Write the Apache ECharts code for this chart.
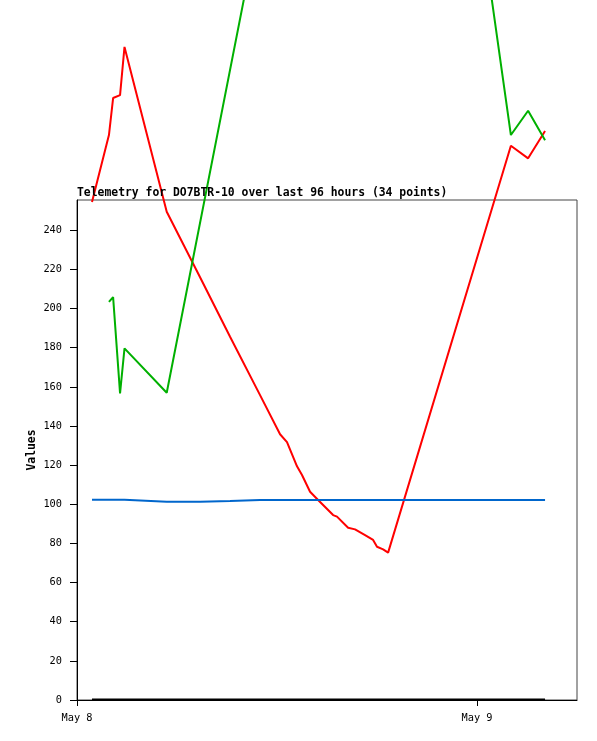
<!DOCTYPE html>
<html>
<head>
<meta charset="utf-8">
<script src="https://cdn.jsdelivr.net/npm/echarts@6/dist/echarts.min.js"></script>
<style>
html,body{margin:0;padding:0;background:#fff;}
#chart{width:597px;height:741px;}
</style>
</head>
<body>
<div id="chart"></div>
<script>
// Shared timestamps (UTC)
var times = [
  "2024-05-08T00:54", "2024-05-08T01:55", "2024-05-08T02:10", "2024-05-08T02:35",
  "2024-05-08T02:51", "2024-05-08T05:23", "2024-05-08T07:23", "2024-05-08T09:11",
  "2024-05-08T10:59", "2024-05-08T12:11", "2024-05-08T12:36", "2024-05-08T13:12",
  "2024-05-08T13:30", "2024-05-08T13:59", "2024-05-08T14:28", "2024-05-08T15:22",
  "2024-05-08T15:36", "2024-05-08T16:16", "2024-05-08T16:41", "2024-05-08T17:17",
  "2024-05-08T17:46", "2024-05-08T18:00", "2024-05-08T18:22", "2024-05-08T18:40",
  "2024-05-09T02:02", "2024-05-09T03:04", "2024-05-09T04:05"
];
var redValues = [
  254.5, 288.7, 307.6, 309.1, 333.7, 249.5, 216.0, 185.6,
  155.8, 135.8, 131.8, 119.4, 115.0, 106.4, 102.2, 94.5,
  93.7, 88.0, 87.2, 84.3, 81.8, 78.3, 77.0, 75.3,
  283.2, 276.8, 290.8
];
var greenValues = [
  null, 203.4, 205.9, 156.7, 179.7, 157.0, null, null,
  null, null, null, null, null, null, null, null,
  null, null, null, null, null, null, null, 733.8,
  288.7, 301.1, 286.0
];
var blueValues = [
  102.3, 102.3, 102.3, 102.3, 102.3, 101.3, 101.3, 101.7,
  102.2, 102.2, 102.2, 102.2, 102.2, 102.2, 102.2, 102.2,
  102.2, 102.2, 102.2, 102.2, 102.2, 102.2, 102.2, 102.2,
  102.2, 102.2, 102.2
];
var blackValues = [
  0.3, 0.3, 0.3, 0.3, 0.3, 0.3, 0.3, 0.3,
  0.3, 0.3, 0.3, 0.3, 0.3, 0.3, 0.3, 0.3,
  0.3, 0.3, 0.3, 0.3, 0.3, 0.3, 0.3, 0.3,
  0.3, 0.3, 0.3
];
var yTicks = [0, 20, 40, 60, 80, 100, 120, 140, 160, 180, 200, 220, 240];
var xTickDates = ["2024-05-08T00:00", "2024-05-09T00:00"];
var xTickLabels = ["May 8", "May 9"];
var titleText = "Telemetry for DO7BTR-10 over last 96 hours (34 points)";
var yName = "Values";

function toMs(s) { return Date.parse(s + ":00Z"); }
function pairs(vals) {
  var out = [];
  for (var i = 0; i < times.length; i++) {
    if (vals[i] !== null) out.push([toMs(times[i]), vals[i]]);
  }
  return out;
}
var xTicksMs = xTickDates.map(toMs);
var xMin = toMs("2024-05-08T00:00");
var xMax = toMs("2024-05-09T06:00");

var chart = echarts.init(document.getElementById('chart'), null, {renderer: 'canvas'});
var mono = "'DejaVu Sans Mono', monospace";
function lineSeries(vals, color) {
  return {
    type: 'line',
    data: pairs(vals),
    showSymbol: false,
    symbol: 'none',
    clip: false,
    connectNulls: true,
    lineStyle: {color: color, width: 2},
    itemStyle: {color: color},
    emphasis: {disabled: true}
  };
}
chart.setOption({
  animation: false,
  backgroundColor: '#fff',
  title: {
    text: titleText,
    left: 77, top: 188,
    padding: 0,
    textStyle: {fontFamily: mono, fontSize: 11.4, fontWeight: 'bold', color: '#000'}
  },
  grid: {
    left: 77, top: 200, width: 500, height: 500,
    show: true, borderColor: '#444', borderWidth: 1, backgroundColor: 'transparent'
  },
  xAxis: {
    type: 'value',
    min: xMin, max: xMax,
    splitLine: {show: false},
    axisLine: {show: true, lineStyle: {color: '#000', width: 1}},
    axisTick: {show: true, length: 6, lineStyle: {color: '#000'}, customValues: xTicksMs},
    axisLabel: {
      show: true, margin: 13, color: '#000', fontFamily: mono, fontSize: 10.3,
      customValues: xTicksMs,
      formatter: function (v) {
        var i = xTicksMs.indexOf(v);
        return i >= 0 ? xTickLabels[i] : '';
      }
    }
  },
  yAxis: {
    type: 'value',
    min: 0, max: 255.5,
    name: yName,
    nameLocation: 'middle',
    nameGap: 39,
    nameMoveOverlap: false,
    nameTextStyle: {fontFamily: mono, fontSize: 11.4, fontWeight: 'bold', color: '#000'},
    splitLine: {show: false},
    axisLine: {show: true, lineStyle: {color: '#000', width: 1}},
    axisTick: {show: true, length: 7, lineStyle: {color: '#000'}, customValues: yTicks},
    axisLabel: {show: true, margin: 15, color: '#000', fontFamily: mono, fontSize: 10.3, customValues: yTicks}
  },
  series: [
    lineSeries(redValues, '#ff0000'),
    lineSeries(greenValues, '#00b000'),
    lineSeries(blueValues, '#0066cc'),
    lineSeries(blackValues, '#000000')
  ]
});
</script>
</body>
</html>
